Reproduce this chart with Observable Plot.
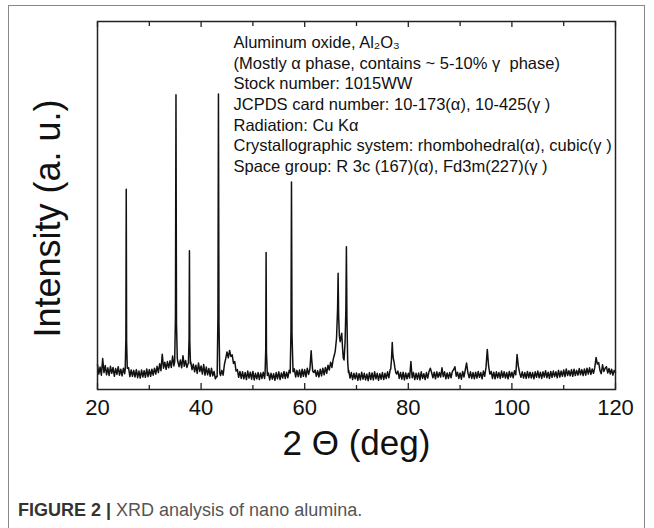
<!DOCTYPE html>
<html>
<head>
<meta charset="utf-8">
<script src="https://cdn.jsdelivr.net/npm/d3@7"></script>
<script src="https://cdn.jsdelivr.net/npm/@observablehq/plot@0.6"></script>
<style>
  html, body { margin: 0; padding: 0; background: #fff; }
  body { width: 654px; height: 528px; position: relative; overflow: hidden; font-family: "Liberation Sans", Arial, sans-serif; }
  #border { position: absolute; left: 8px; top: 5px; width: 637px; height: 560px; border: 1px solid #888; box-sizing: border-box; }
  #chart { position: absolute; left: 0; top: 0; }
  #caption { position: absolute; left: 18px; top: 501px; font-size: 18px; line-height: 18px; color: #555; white-space: nowrap; }
  #caption b { color: #333; }
</style>
</head>
<body>
<div id="border"></div>
<div id="chart"></div>
<div id="caption"><b>FIGURE 2 |</b> XRD analysis of nano alumina.</div>
<script>
// ---- data ----
const xTicks = [20, 40, 60, 80, 100, 120];
const xMinorTicks = [30, 50, 70, 90, 110];
const xLabel = "2 \u0398 (deg)";
const yLabel = "Intensity (a. u.)";
const annotation = [
  "Aluminum oxide, Al\u2082O\u2083",
  "(Mostly \u03b1 phase, contains ~ 5-10% \u03b3  phase)",
  "Stock number: 1015WW",
  "JCPDS card number: 10-173(\u03b1), 10-425(\u03b3 )",
  "Radiation: Cu K\u03b1",
  "Crystallographic system: rhombohedral(\u03b1), cubic(\u03b3 )",
  "Space group: R 3c (167)(\u03b1), Fd3m(227)(\u03b3 )"
];

// background scan, 2θ from 20° in 0.25° steps (intensity, a.u.)
const scanStart = 20, scanStep = 0.25;
const background = [
  6.8, 4.2, 6.1, 3.9,   // 20
  8.4, 4.6, 6.5, 4.0,   // 21
  5.9, 3.8, 6.3, 4.4,   // 22
  6.0, 3.6, 5.7, 4.1,   // 23
  6.2, 3.9, 5.5, 3.7,   // 24
  5.8, 4.3, 5.0, 4.6,   // 25
  5.9, 3.5, 5.3, 3.6,   // 26
  5.2, 3.4, 5.4, 3.2,   // 27
  5.0, 3.1, 5.3, 3.4,   // 28
  5.1, 3.3, 5.6, 3.5,   // 29
  5.4, 3.6, 5.5, 3.9,   // 30
  5.8, 4.2, 6.3, 4.6,   // 31
  7.0, 5.1, 9.6, 5.8,   // 32
  7.4, 5.5, 7.6, 5.9,   // 33
  7.8, 6.0, 9.1, 6.4,   // 34
  7.2, 6.8, 7.6, 6.2,   // 35
  8.0, 5.9, 9.2, 6.3,   // 36
  7.9, 6.0, 7.1, 6.0,   // 37
  7.5, 5.4, 6.9, 4.8,   // 38
  6.6, 4.4, 7.2, 4.9,   // 39
  6.4, 4.2, 6.8, 3.9,   // 40
  6.1, 4.0, 5.7, 3.6,   // 41
  5.8, 3.7, 4.9, 2.9,   // 42
  3.6, 3.2, 4.0, 3.8,   // 43
  5.2, 3.9, 6.8, 8.4,   // 44
  10.2, 8.6, 10.6, 9.0, // 45
  9.4, 7.1, 7.6, 5.0,   // 46
  5.4, 3.3, 4.9, 3.0,   // 47
  4.8, 2.9, 4.6, 2.7,   // 48
  5.0, 3.1, 4.7, 2.8,   // 49
  4.9, 2.6, 4.4, 2.9,   // 50
  4.6, 2.7, 4.5, 3.0,   // 51
  4.7, 3.0, 4.2, 3.4,   // 52
  4.5, 2.6, 4.4, 2.8,   // 53
  4.3, 2.5, 4.6, 2.9,   // 54
  4.8, 2.7, 4.5, 3.1,   // 55
  4.9, 3.0, 4.7, 3.2,   // 56
  5.2, 3.6, 5.0, 4.4,   // 57
  5.6, 3.4, 5.2, 3.5,   // 58
  5.3, 3.3, 5.5, 3.6,   // 59
  5.4, 3.4, 5.8, 4.1,   // 60
  6.5, 8.8, 7.0, 4.6,   // 61
  5.3, 3.6, 5.1, 3.4,   // 62
  5.5, 3.7, 5.8, 4.0,   // 63
  6.0, 4.4, 6.6, 5.3,   // 64
  7.4, 6.0, 8.2, 9.5,   // 65
  11.0, 14.0, 20.0, 14.0, // 66
  15.0, 12.0, 9.0, 10.0,  // 67
  30.0, 8.0, 5.2, 3.1,  // 68
  4.6, 2.7, 4.4, 2.9,   // 69
  4.5, 2.5, 4.3, 2.6,   // 70
  4.7, 2.8, 4.4, 2.6,   // 71
  4.2, 2.4, 4.6, 2.7,   // 72
  4.5, 2.6, 4.8, 2.9,   // 73
  4.4, 2.5, 4.3, 2.8,   // 74
  4.6, 2.7, 4.4, 3.0,   // 75
  4.8, 3.2, 5.4, 8.0,   // 76
  9.0, 7.2, 5.8, 4.2,   // 77
  5.0, 3.0, 4.6, 2.8,   // 78
  4.7, 2.6, 4.5, 2.9,   // 79
  4.4, 3.1, 7.6, 3.2,   // 80
  4.6, 2.7, 4.4, 2.8,   // 81
  4.5, 2.6, 4.8, 3.0,   // 82
  4.3, 2.7, 4.6, 3.1,   // 83
  4.9, 5.8, 4.6, 3.2,   // 84
  4.7, 2.9, 4.8, 3.3,   // 85
  4.6, 3.4, 5.9, 3.5,   // 86
  4.8, 2.9, 4.5, 3.0,   // 87
  4.6, 3.2, 4.9, 5.4,   // 88
  6.2, 3.6, 4.7, 3.0,   // 89
  4.5, 2.8, 4.9, 3.4,   // 90
  5.3, 7.2, 4.6, 3.2,   // 91
  4.8, 3.0, 4.6, 2.9,   // 92
  4.7, 3.1, 4.9, 3.3,   // 93
  4.6, 2.9, 5.0, 3.6,   // 94
  6.0, 10.9, 6.4, 4.2,  // 95
  4.9, 3.0, 4.7, 2.9,   // 96
  4.8, 3.2, 4.6, 3.0,   // 97
  5.0, 3.3, 4.8, 3.1,   // 98
  4.6, 2.9, 4.9, 3.4,   // 99
  4.7, 3.2, 5.1, 4.0,   // 100
  9.5, 6.3, 4.5, 3.3,   // 101
  4.8, 3.1, 4.6, 3.0,   // 102
  4.9, 3.2, 4.7, 3.1,   // 103
  4.6, 2.9, 4.8, 3.3,   // 104
  5.0, 3.2, 4.7, 3.0,   // 105
  4.8, 3.4, 5.1, 3.2,   // 106
  4.7, 3.0, 4.9, 3.3,   // 107
  5.0, 3.5, 4.8, 3.2,   // 108
  5.2, 3.4, 5.0, 3.6,   // 109
  5.3, 3.5, 5.6, 3.8,   // 110
  5.1, 3.7, 5.4, 3.6,   // 111
  5.5, 3.8, 5.2, 3.9,   // 112
  5.7, 4.0, 5.4, 3.8,   // 113
  5.6, 3.9, 5.8, 4.2,   // 114
  5.9, 4.1, 5.6, 4.4,   // 115
  6.0, 8.7, 6.9, 7.3,   // 116
  5.2, 4.3, 6.7, 4.9,   // 117
  5.8, 6.2, 4.5, 5.7,   // 118
  4.2, 5.5, 3.9, 5.2,   // 119
  4.6                   // 120
];

// sharp reflections: [2θ, intensity] points read at each peak
const peaks = [
  [[25.35, 5.5], [25.48, 14], [25.55, 54.4], [25.62, 13], [25.75, 5.8]],
  [[34.9, 7.5], [35.05, 20], [35.15, 80.1], [35.25, 18], [35.4, 8.5]],
  [[37.55, 7.2], [37.68, 14], [37.75, 37.7], [37.82, 13], [37.95, 7.0]],
  [[43.1, 3.5], [43.25, 20], [43.35, 80.3], [43.45, 18], [43.6, 4.5]],
  [[52.35, 4.3], [52.48, 11], [52.55, 37.2], [52.62, 10], [52.8, 3.8]],
  [[57.2, 4.5], [57.35, 16], [57.45, 56.4], [57.55, 15], [57.75, 4.8]],
  [[61.0, 5.5], [61.15, 8.5], [61.25, 10.5], [61.35, 8.2], [61.55, 5.0]],
  [[65.9, 10.5], [66.15, 14], [66.35, 22], [66.45, 31.6], [66.55, 20], [66.7, 14.5],
   [66.85, 13], [67.0, 14.2], [67.15, 15.3], [67.3, 11.5], [67.45, 8.5], [67.6, 8.0],
   [67.8, 13], [67.95, 22], [68.05, 38.8], [68.15, 20], [68.3, 7.5], [68.45, 4.6]],
  [[76.6, 5.5], [76.75, 8], [76.9, 12.8], [77.0, 10], [77.1, 8.5], [77.25, 7.5], [77.4, 6], [77.6, 4.5]]
];

// ---- assemble scan ----
const scan = background
  .map((v, i) => ({ theta: scanStart + i * scanStep, counts: v }))
  .filter(p => !peaks.some(pk => p.theta >= pk[0][0] && p.theta <= pk[pk.length - 1][0]));
peaks.forEach(pk => pk.forEach(([theta, counts]) => scan.push({ theta, counts })));
scan.sort((a, b) => a.theta - b.theta);

const font = "'Liberation Sans', Arial, sans-serif";

const chart = Plot.plot({
  width: 654,
  height: 490,
  marginLeft: 97,
  marginRight: 39,
  marginTop: 21,
  marginBottom: 101,
  style: { fontFamily: font, background: "transparent", color: "#111" },
  x: { domain: [20, 120], label: null },
  y: { domain: [0, 100], axis: null },
  marks: [
    Plot.line(scan, { x: "theta", y: "counts", stroke: "#111", strokeWidth: 1.5, curve: "linear" }),
    Plot.frame({ stroke: "#222", strokeWidth: 1.5 }),
    // inward ticks, bottom
    Plot.axisX({ anchor: "bottom", ticks: xTicks, tickSize: -6, tickFormat: () => "", stroke: "#222", strokeWidth: 1.3, label: null }),
    Plot.axisX({ anchor: "bottom", ticks: xMinorTicks, tickSize: -4, tickFormat: () => "", stroke: "#222", strokeWidth: 1.3, label: null }),
    // inward ticks, top
    Plot.axisX({ anchor: "top", ticks: xTicks, tickSize: -5, tickFormat: () => "", stroke: "#222", strokeWidth: 1.3, label: null }),
    Plot.axisX({ anchor: "top", ticks: xMinorTicks, tickSize: -4, tickFormat: () => "", stroke: "#222", strokeWidth: 1.3, label: null }),
    // tick labels
    Plot.axisX({ anchor: "bottom", ticks: xTicks, tickSize: 0, tickPadding: 10, fontSize: 22, label: null, fill: "#111" }),
    // axis titles
    Plot.text([xLabel], { text: d => d, frameAnchor: "bottom", textAnchor: "middle", lineAnchor: "middle", dy: 54, fontSize: 35, fill: "#111" }),
    Plot.text([yLabel], { text: d => d, frameAnchor: "left", textAnchor: "middle", lineAnchor: "middle", rotate: -90, dx: -49, dy: 13, fontSize: 36, fill: "#111" }),
    // annotation block
    Plot.text([annotation.join("\n")], { text: d => d, frameAnchor: "top-left", textAnchor: "start", lineAnchor: "top", dx: 136, dy: 12, fontSize: 16.5, lineHeight: 1.25, fill: "#111" })
  ]
});
document.getElementById("chart").appendChild(chart);
</script>
</body>
</html>
